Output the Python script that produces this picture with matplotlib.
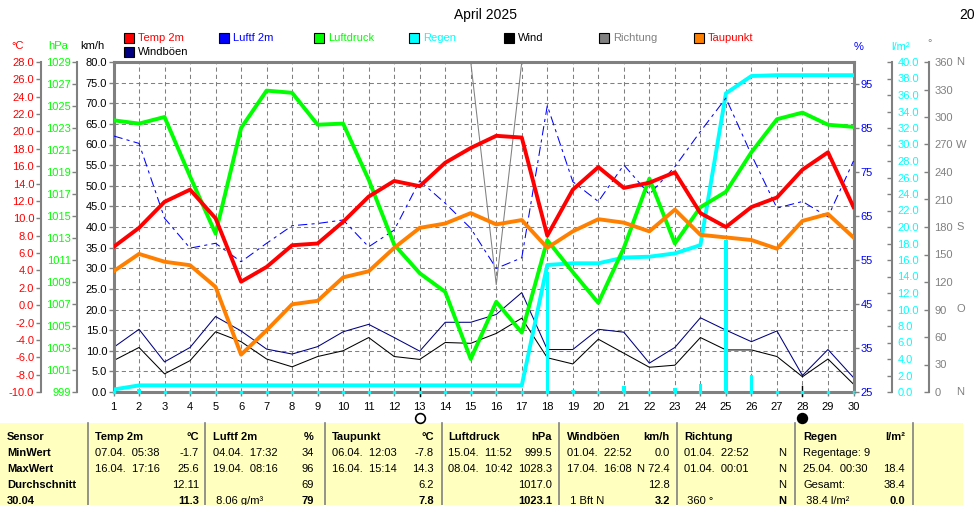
import matplotlib
matplotlib.use("Agg")
import matplotlib.pyplot as plt
from matplotlib.patches import Rectangle
from matplotlib.lines import Line2D

plt.rcParams['font.family'] = ['Liberation Sans', 'DejaVu Sans']

W, H = 974, 505

# ---- data (daily values, April 2025) ----
days = list(range(1, 31))
temp = [6.7, 8.9, 11.9, 13.3, 10.0, 2.7, 4.4, 6.9, 7.1, 9.6,
        12.5, 14.3, 13.7, 16.4, 18.1, 19.5, 19.3, 8.0, 13.3, 15.9,
        13.5, 14.1, 15.3, 10.6, 9.0, 11.3, 12.4, 15.6, 17.6, 11.3]
dewpoint = [3.9, 5.9, 5.0, 4.6, 2.1, -5.7, -2.9, 0.1, 0.5, 3.2,
            3.9, 6.6, 8.9, 9.4, 10.6, 9.3, 9.8, 6.6, 8.5, 9.9,
            9.5, 8.5, 11.0, 8.1, 7.8, 7.5, 6.5, 9.7, 10.5, 7.8]
pressure = [1023.7, 1023.4, 1024.0, 1018.6, 1013.4, 1023.0, 1026.4, 1026.2, 1023.3, 1023.4,
            1018.3, 1012.4, 1009.8, 1008.1, 1002.0, 1007.2, 1004.4, 1012.8, 1009.9, 1007.1,
            1012.1, 1018.4, 1012.5, 1015.8, 1017.2, 1020.8, 1023.8, 1024.4, 1023.3, 1023.1]
humidity = [83.2, 81.5, 64.5, 57.7, 58.8, 54.6, 58.8, 62.8, 63.3, 64.1,
            58.0, 61.8, 73.0, 67.9, 62.2, 53.1, 55.5, 90.1, 72.8, 68.3,
            76.6, 69.9, 76.2, 84.2, 91.8, 78.9, 66.8, 68.3, 64.8, 77.5]
gusts = [10.8, 15.2, 7.3, 10.8, 18.3, 14.8, 10.4, 9.2, 11.0, 14.6,
         16.4, 13.2, 9.9, 16.9, 16.9, 18.8, 24.1, 10.3, 10.3, 15.2,
         14.5, 7.0, 10.8, 18.0, 15.0, 12.2, 14.8, 4.0, 10.3, 3.5]
wind = [7.6, 10.8, 4.4, 7.6, 14.6, 12.2, 8.0, 6.1, 8.6, 10.0,
        13.2, 8.6, 7.9, 12.0, 11.8, 14.2, 17.9, 8.3, 6.8, 12.8,
        9.4, 6.0, 6.5, 13.2, 10.2, 10.2, 8.6, 3.7, 8.0, 1.9]
direction = [360, 360, 360, 360, 360, 360, 360, 360, 360, 360,
             360, 360, 360, 360, 360, 117, 360, 360, 360, 360,
             360, 360, 360, 360, 360, 360, 360, 360, 360, 360]
rain_day = [0.3, 0.4, 0, 0, 0, 0, 0, 0, 0, 0,
            0, 0, 0, 0, 0, 0, 0, 14.6, 0.2, 0.1,
            0.7, 0.1, 0.5, 1.0, 18.4, 2.1, 0, 0, 0, 0]
rain_sum = [0.3, 0.8, 0.8, 0.8, 0.8, 0.8, 0.8, 0.8, 0.8, 0.8,
            0.8, 0.8, 0.8, 0.8, 0.8, 0.8, 0.8, 15.4, 15.6, 15.6,
            16.3, 16.4, 16.8, 17.8, 36.2, 38.3, 38.4, 38.4, 38.4, 38.4]
full_moon_day = 13
new_moon_day = 28

# axis ticks
kmh_ticks = [i * 5 for i in range(17)]
temp_ticks = [-10, -8, -6, -4, -2, 0, 2, 4, 6, 8, 10, 12, 14, 16, 18, 20, 22, 24, 26, 28]
hpa_ticks = [999, 1001, 1003, 1005, 1007, 1009, 1011, 1013, 1015, 1017,
             1019, 1021, 1023, 1025, 1027, 1029]
hum_ticks = [25, 35, 45, 55, 65, 75, 85, 95]
rain_ticks = [i * 2 for i in range(21)]
dir_ticks = [0, 30, 60, 90, 120, 150, 180, 210, 240, 270, 300, 330, 360]
dir_letters = {0: 'N', 90: 'O', 180: 'S', 270: 'W', 360: 'N'}

# statistics table
table_cols = [
    # header, unit, x_left, x_right, left texts, right texts
    ("Temp 2m", "°C", 95, 199,
     ["07.04.  05:38", "16.04.  17:16", "", ""], ["-1.7", "25.6", "12.11", "11.3"]),
    ("Luftf 2m", "%", 213, 314,
     ["04.04.  17:32", "19.04.  08:16", "", " 8.06 g/m³"], ["34", "96", "69", "79"]),
    ("Taupunkt", "°C", 332, 434,
     ["06.04.  12:03", "16.04.  15:14", "", ""], ["-7.8", "14.3", "6.2", "7.8"]),
    ("Luftdruck", "hPa", 448, 552,
     ["15.04.  11:52", "08.04.  10:42", "", ""], ["999.5", "1028.3", "1017.0", "1023.1"]),
    ("Windböen", "km/h", 567, 670,
     ["01.04.  22:52", "17.04.  16:08", "", " 1 Bft N"], ["0.0", "N 72.4", "12.8", "3.2"]),
    ("Richtung", "", 684, 786,
     ["01.04.  22:52", "01.04.  00:01", "", " 360 °"], ["N", "N", "N", "N"]),
    ("Regen", "l/m²", 803, 905,
     ["Regentage: 9", "25.04.  00:30", "Gesamt:", " 38.4 l/m²"], ["", "18.4", "38.4", "0.0"]),
]
row_labels = ["Sensor", "MinWert", "MaxWert", "Durchschnitt", "30.04"]
separators = [88, 205, 325, 442, 559, 677, 795, 913]

GRAY = '#808080'
RED = '#ff0000'
BLUE = '#0000ff'
GREEN = '#00ff00'
CYAN = '#00ffff'
ORANGE = '#ff8000'
NAVY = '#000080'
YELLOW = '#ffffc0'
FS = 8


def fx(x):
    return x / W


def fy(y):
    return 1 - y / H


fig = plt.figure(figsize=(W / 100, H / 100), dpi=100)
fig.patch.set_facecolor('white')

L, R, T, B = 113.5, 853.5, 62, 392
ax = fig.add_axes([fx(L), fy(B), (R - L) / W, (B - T) / H])
ax.set_xlim(1, 30)
ax.set_ylim(0, 80)
ax.set_xticks(days)
ax.set_xticklabels([str(d) for d in days], fontsize=FS)
ax.set_yticks(kmh_ticks)
ax.set_yticklabels(['%.1f' % v for v in kmh_ticks], fontsize=FS)
ax.tick_params(axis='x', length=3, width=1, color=GRAY, pad=4)
ax.tick_params(axis='y', length=3.5, width=1, color=GRAY, pad=1)
for s in ax.spines.values():
    s.set_color(GRAY)
    s.set_linewidth(2.2)
ax.grid(True, color=GRAY, linestyle=(0, (4, 3)), linewidth=0.75)

# wind and gusts on the km/h axis
ax.plot(days, wind, color='black', lw=0.75)
ax.plot(days, gusts, color=NAVY, lw=0.75)


def side_axis(side, offset, lo, hi, ticks, labels, color, direction='out', pad=1.2):
    a = ax.twinx()
    a.set_ylim(lo, hi)
    for s in a.spines.values():
        s.set_visible(False)
    sp = a.spines[side]
    if offset > 0:
        sp.set_visible(True)
        sp.set_position(('outward', offset))
        sp.set_color(GRAY)
        sp.set_linewidth(1.5)
    a.yaxis.set_ticks_position(side)
    a.yaxis.set_label_position(side)
    a.set_yticks(ticks)
    a.set_yticklabels(labels, fontsize=FS, color=color)
    a.tick_params(axis='y', direction=direction, length=3.5, width=1, color=GRAY, pad=pad)
    return a


ax_rain = side_axis('right', 27.9, 0, 40, rain_ticks, ['%.1f' % v for v in rain_ticks],
                    CYAN, direction='in', pad=3.6)
ax_rain.bar(days, rain_day, width=0.14, color=CYAN, zorder=2)
ax_rain.plot(days, [0] * len(days), ls='none', marker='s', ms=1.5, color=CYAN, clip_on=False)
ax_rain.plot(days, rain_sum, color=CYAN, lw=2.8, solid_joinstyle='round')

ax_hum = side_axis('right', 0, 25, 100, hum_ticks, [str(v) for v in hum_ticks],
                   BLUE, pad=1.5)
ax_hum.plot(days, humidity, color=BLUE, lw=0.75, linestyle=(0, (9, 4, 3, 4)))

ax_dir = side_axis('right', 54.4, 0, 360, dir_ticks, [str(v) for v in dir_ticks],
                   GRAY, direction='in', pad=3.8)
ax_dir.plot(days, direction, color=GRAY, lw=0.75)
for v, letter in dir_letters.items():
    ax_dir.text((956 - L) / (R - L), v, letter, transform=ax_dir.get_yaxis_transform(),
                ha='left', va='center', fontsize=FS, color=GRAY, clip_on=False)

ax_p = side_axis('left', 26.1, 999, 1029, hpa_ticks, [str(v) for v in hpa_ticks], GREEN)
ax_p.plot(days, pressure, color=GREEN, lw=2.8)

ax_t = side_axis('left', 52.4, -10, 28, temp_ticks, ['%.1f' % v for v in temp_ticks], RED)
ax_t.plot(days, dewpoint, color=ORANGE, lw=2.8)
ax_t.plot(days, temp, color=RED, lw=2.8)

# moon phases under the x axis
xt = ax.get_xaxis_transform()
for d, face in ((full_moon_day, 'white'), (new_moon_day, 'black')):
    ax.plot([d, d], [-0.012, 0.018], color='black', lw=1, transform=xt, clip_on=False)
    ax.plot([d], [-0.079], marker='o', ms=7, mfc=face, mec='black', mew=1.2,
            transform=xt, clip_on=False)

# axis headers and title
fig.text(fx(485), fy(15), "April 2025", ha='center', va='center', fontsize=10)
fig.text(fx(959), fy(15), "20", ha='left', va='center', fontsize=10)
for txt, x, y, c in (("°C", 18, 46, RED), ("hPa", 58, 46, GREEN), ("km/h", 92, 46, 'black'),
                     ("%", 859, 47, BLUE), ("l/m²", 900, 47, CYAN), ("°", 930, 43, GRAY)):
    fig.text(fx(x), fy(y), txt, ha='center', va='center', fontsize=FS, color=c)

# legend
legend_items = [
    ("Temp 2m", RED, RED, 124, 38), ("Luftf 2m", BLUE, BLUE, 219, 38),
    ("Luftdruck", GREEN, GREEN, 314, 38), ("Regen", CYAN, CYAN, 409, 38),
    ("Wind", 'black', 'black', 504, 38), ("Richtung", GRAY, GRAY, 599, 38),
    ("Taupunkt", ORANGE, RED, 694, 38), ("Windböen", NAVY, 'black', 124, 52),
]
for name, sq, tc, x, y in legend_items:
    fig.add_artist(Rectangle((fx(x), fy(y + 5)), 10 / W, 10 / H, transform=fig.transFigure,
                             facecolor=sq, edgecolor='black', lw=0.8))
    fig.text(fx(x + 14), fy(y), name, ha='left', va='center', fontsize=FS, color=tc)

# statistics table
fig.add_artist(Rectangle((0, 0), fx(963), (H - 423) / H, transform=fig.transFigure,
                         facecolor=YELLOW, edgecolor='none', zorder=0))
for x in separators:
    fig.add_artist(Line2D([fx(x), fx(x)], [fy(423), 0], transform=fig.transFigure,
                          color=GRAY, lw=1.2))
row_y = [437.5, 453.5, 469.5, 485.5, 501.5]
for y, lab in zip(row_y, row_labels):
    fig.text(fx(7), fy(y), lab, ha='left', va='center', fontsize=FS, fontweight='bold')
for head, unit, xl, xr, lefts, rights in table_cols:
    fig.text(fx(xl), fy(row_y[0]), head, ha='left', va='center', fontsize=FS, fontweight='bold')
    fig.text(fx(xr), fy(row_y[0]), unit, ha='right', va='center', fontsize=FS, fontweight='bold')
    for i in range(4):
        y = row_y[i + 1]
        bold = 'bold' if i == 3 else 'normal'
        fig.text(fx(xl), fy(y), lefts[i], ha='left', va='center', fontsize=FS)
        fig.text(fx(xr), fy(y), rights[i], ha='right', va='center', fontsize=FS, fontweight=bold)

fig.savefig("out.png", dpi=100)
